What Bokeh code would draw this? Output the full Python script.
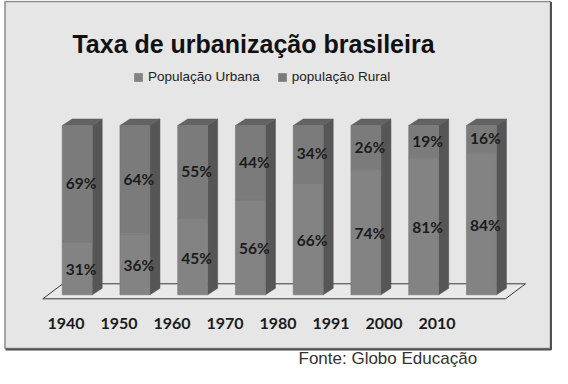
import numpy as np
from bokeh.plotting import figure
from bokeh.models import Range1d, Legend, LegendItem, ColumnDataSource
from bokeh.core.properties import value
from bokeh.embed import file_html
from bokeh.resources import INLINE

# ---------------- data ----------------
years = ["1940", "1950", "1960", "1970", "1980", "1991", "2000", "2010"]
urbana = [31, 36, 45, 56, 66, 74, 81, 84]
rural = [69, 64, 55, 44, 34, 26, 19, 16]
series_labels = ["População Urbana", "população Rural"]
title_text = "Taxa de urbanização brasileira"
source_text = "Fonte: Globo Educação"

# ---------------- layout (pixels) ----------------
W, H = 552, 368
BAR0, STEP = 76.7, 57.75   # x of first bar centre, spacing
ZERO, PXPCT = 294.3, 1.693  # y of 0 %, pixels per %
BAR_W = 30
DEP_X, DEP_Y = 10, 6.5
YEAR0, YEAR_STEP = 65.5, 53.0


def fx(px):
    return (px - BAR0) / STEP


def fy(py):
    return (ZERO - py) / PXPCT


bw = BAR_W / STEP
dx = DEP_X / STEP
dy = DEP_Y / PXPCT

p = figure(width=W, height=H, output_backend="svg", toolbar_location=None,
           x_range=Range1d(fx(0), fx(W)), y_range=Range1d(fy(H), fy(0)),
           x_axis_location=None, y_axis_location=None, min_border=0,
           background_fill_color="white", border_fill_color="white")
p.outline_line_color = None
p.xgrid.visible = False
p.ygrid.visible = False

# panel
p.quad(left=[fx(4.5)], right=[fx(550)], top=[fy(1)], bottom=[fy(348)],
       fill_color="#e6e6e6", line_color="#8a8a8a", line_width=1.5)
p.line(x=[fx(550.5), fx(550.5), fx(5)], y=[fy(1.5), fy(349), fy(349)],
       line_color="#505050", line_width=2)

# floor
fl_front, fl_back = fy(298.3), fy(283.3)
fl_l, fl_r, fl_sk = fx(42.3), fx(505), 20 / STEP
p.patch(x=[fl_l, fl_r, fl_r + fl_sk, fl_l + fl_sk],
        y=[fl_front, fl_front, fl_back, fl_back],
        fill_color="#e9e9e9", line_color="#3a3a3a", line_width=1)

idx = np.arange(len(years))
urb = np.array(urbana, dtype=float)
rur = np.array(rural, dtype=float)
tot = urb + rur

src = ColumnDataSource(dict(x=idx, urb=urb, tot=tot))

# side faces
side_xs = [[i + bw / 2, i + bw / 2 + dx, i + bw / 2 + dx, i + bw / 2] for i in idx]
side_ys = [[0, dy, t + dy, t] for t in tot]
p.patches(xs=side_xs, ys=side_ys, fill_color="#565656", line_color="#4e4e4e", line_width=0.5)
# top faces
top_xs = [[i - bw / 2, i + bw / 2, i + bw / 2 + dx, i - bw / 2 + dx] for i in idx]
top_ys = [[t, t, t + dy, t + dy] for t in tot]
p.patches(xs=top_xs, ys=top_ys, fill_color="#636363", line_color="#5a5a5a", line_width=0.5)

# front faces
r_urb = p.vbar(x="x", width=bw, bottom=0, top="urb", source=src,
               fill_color="#838383", line_color="#777777", line_width=0.6)
r_rur = p.vbar(x="x", width=bw, bottom="urb", top="tot", source=src,
               fill_color="#7b7b7b", line_color="#777777", line_width=0.6)

# value labels
lab_dx = 4 / STEP
p.text(x=idx + lab_dx, y=urb / 2 - 0.5, text=[f"{v}%" for v in urbana],
       text_align="center", text_baseline="middle", text_color="#1c1c1c",
       text_font=value("Lato"), text_font_style="bold", text_font_size="15.5px")
p.text(x=idx + lab_dx, y=urb + rur / 2 + 0.5, text=[f"{v}%" for v in rural],
       text_align="center", text_baseline="middle", text_color="#1c1c1c",
       text_font=value("Lato"), text_font_style="bold", text_font_size="15.5px")

# year labels
p.text(x=[fx(YEAR0 + i * YEAR_STEP) for i in idx], y=[fy(323)] * len(years), text=years,
       text_align="center", text_baseline="middle", text_color="#1a1a1a",
       text_font=value("Lato"), text_font_style="bold", text_font_size="16px")

# title
p.text(x=[fx(253)], y=[fy(43)], text=[title_text], text_align="center",
       text_baseline="alphabetic", text_color="#111111",
       text_font=value("Liberation Sans"), text_font_style="bold", text_font_size="25px")

# source
p.text(x=[fx(298)], y=[fy(358)], text=[source_text], text_align="left",
       text_baseline="middle", text_color="#333333",
       text_font=value("Liberation Sans"), text_font_size="17px")

legend = Legend(items=[LegendItem(label=series_labels[0], renderers=[r_urb]),
                       LegendItem(label=series_labels[1], renderers=[r_rur])],
                orientation="horizontal", location=(133, H - 84), padding=0, margin=0,
                spacing=17, glyph_width=10, glyph_height=10, label_standoff=5,
                label_height=10, label_text_font="Liberation Sans",
                label_text_font_size="13.5px", label_text_color="#222222",
                background_fill_alpha=0, border_line_alpha=0)
p.add_layout(legend, "center")

open("out.html", "w").write(file_html(p, INLINE))
